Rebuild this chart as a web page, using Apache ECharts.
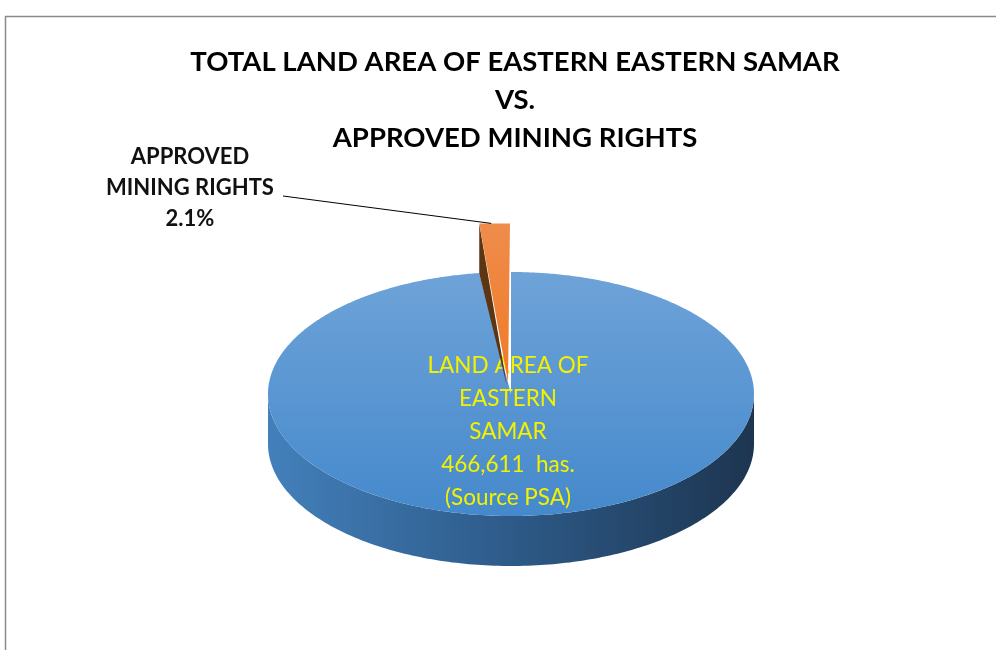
<!DOCTYPE html>
<html>
<head>
<meta charset="utf-8">
<title>Eastern Samar</title>
<script src="https://cdn.jsdelivr.net/npm/echarts@6/dist/echarts.min.js"></script>
<style>
  html, body { margin: 0; padding: 0; background: #fff; }
  #main { width: 996px; height: 650px; }
</style>
</head>
<body>
<div id="main"></div>
<script>
// slice names and values (hectares); 2.1% share for the mining rights
var sliceNames = ['LAND AREA OF\nEASTERN\nSAMAR', 'APPROVED\nMINING RIGHTS'];
var sliceValues = [466611, 10010];
var sliceUnits = ['has.', ''];
var sliceSource = ['(Source PSA)', ''];

var total = sliceValues.reduce(function (a, b) { return a + b; }, 0);

// ellipse geometry of the tilted pie
var cx = 511, cy = 394, rx = 243, ry = 122, depth = 50;

function pt(ox, oy, ax, ay, deg) {
    var r = deg * Math.PI / 180;
    return [ox + ax * Math.sin(r), oy - ay * Math.cos(r)];
}

function renderSlice(params, api) {
    var idx = params.dataIndex;
    var start = 0;
    for (var i = 0; i < idx; i++) start += sliceValues[i] / total * 360;
    var end = start + sliceValues[idx] / total * 360;
    var children = [];

    if (idx === 0) {
        // side wall (front half only)
        var a0 = Math.max(start, 90), a1 = Math.min(end, 270);
        var side = [];
        for (var a = a0; a <= a1; a += 1) side.push(pt(cx, cy, rx, ry, a));
        for (var b = a1; b >= a0; b -= 1) {
            var p = pt(cx, cy, rx, ry, b);
            side.push([p[0], p[1] + depth]);
        }
        children.push({
            type: 'polygon',
            shape: { points: side },
            style: {
                fill: new echarts.graphic.LinearGradient(0, 0, 1, 0, [
                    { offset: 0, color: '#4380bb' },
                    { offset: 0.45, color: '#2f5e8e' },
                    { offset: 1, color: '#1d3550' }
                ])
            }
        });
        // top face
        var top = [[cx, cy]];
        for (var t = start; t <= end; t += 0.5) top.push(pt(cx, cy, rx, ry, t));
        top.push(pt(cx, cy, rx, ry, end));
        children.push({
            type: 'polygon',
            shape: { points: top },
            style: {
                fill: new echarts.graphic.LinearGradient(0, 0, 0, 1, [
                    { offset: 0, color: '#6ea3d8' },
                    { offset: 1, color: '#4589cc' }
                ])
            }
        });
        children.push({
            type: 'text',
            style: {
                text: sliceNames[idx] + '\n' + sliceValues[idx].toLocaleString('en-US') + '  ' + sliceUnits[idx] + '\n' + sliceSource[idx],
                x: 508, y: 432,
                align: 'center', verticalAlign: 'middle',
                font: '22.5px Lato', lineHeight: 33,
                fill: '#f2f200'
            }
        });
    } else {
        // exploded slice at the back
        var tip = [cx - 3, cy - 12];
        var lift = 38;
        var oL = pt(tip[0], tip[1], rx * 0.9, ry + lift, start);
        var oR = [tip[0] + 2, oL[1]];
        children.push({
            type: 'polygon',
            shape: { points: [oL, [oL[0], oL[1] + depth], [tip[0] - 1, tip[1] + 4]] },
            style: { fill: '#5c3513' }
        });
        children.push({
            type: 'polygon',
            shape: { points: [[tip[0], tip[1]], oL, oR] },
            style: {
                fill: new echarts.graphic.LinearGradient(0, 0, 0, 1, [
                    { offset: 0, color: '#ef8c4c' },
                    { offset: 1, color: '#f07a26' }
                ])
            }
        });
        // leader line and label
        children.push({
            type: 'polyline',
            shape: { points: [[283, 196], [oL[0] + 12, oL[1]]] },
            style: { stroke: '#000', lineWidth: 1, fill: null }
        });
        var pct = (sliceValues[idx] / total * 100).toFixed(1) + '%';
        children.push({
            type: 'text',
            style: {
                text: sliceNames[idx] + '\n' + pct,
                x: 190, y: 188,
                align: 'center', verticalAlign: 'middle',
                font: 'bold 22px Lato', lineHeight: 31,
                fill: '#111'
            }
        });
    }
    return { type: 'group', children: children };
}

var chart = echarts.init(document.getElementById('main'));
chart.setOption({
    animation: false,
    title: {
        text: 'TOTAL LAND AREA OF EASTERN EASTERN SAMAR\nVS.\nAPPROVED MINING RIGHTS',
        left: 510,
        top: 38,
        textAlign: 'center',
        textStyle: {
            fontFamily: 'Lato', fontWeight: 'bold', fontSize: 27.5,
            lineHeight: 38, color: '#000'
        }
    },
    graphic: [{
        type: 'rect',
        shape: { x: 5.5, y: 16.5, width: 1000, height: 700 },
        style: { fill: null, stroke: '#8a8a8a', lineWidth: 1.5 },
        z: -1
    }],
    series: [{
        type: 'custom',
        coordinateSystem: 'none',
        renderItem: renderSlice,
        data: sliceValues.map(function (v, i) { return { name: sliceNames[i], value: v }; })
    }]
});
</script>
</body>
</html>
